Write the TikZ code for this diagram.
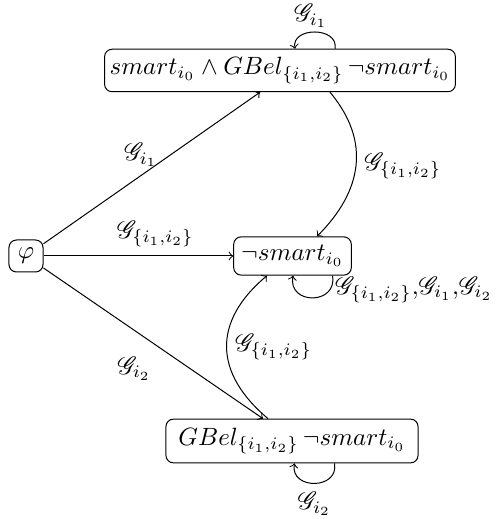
\documentclass[tikz,border=0pt]{standalone}
\usepackage{mathrsfs}
\begin{document}
\begin{tikzpicture}[x=0.4pt,y=0.4pt,
  state/.style={draw, rounded corners=3pt, inner sep=3pt},
  >=to]
\useasboundingbox (0,0) rectangle (499,519);
\node[state, minimum width=13.6pt, minimum height=12.8pt] (phi) at (26,263) {$\varphi$};
\node[state, minimum height=15.3pt] (s) at (292.5,263) {$\neg smart_{i_0}$};
\node[state, inner xsep=2pt, minimum height=17pt] (top) at (280,448.5) {$smart_{i_0} \wedge GBel_{\{i_1,i_2\}}\,\neg smart_{i_0}$};
\node[state, inner xsep=5pt, minimum height=17.5pt] (bot) at (292,78) {$GBel_{\{i_1,i_2\}}\,\neg smart_{i_0}$};
\draw[->] (phi) -- node[pos=0.45, above] {$\mathscr{G}_{i_1}$} ([xshift=-8pt]top.south);
\draw[->] (phi) -- node[pos=0.59, above] {$\mathscr{G}_{\{i_1,i_2\}}$} (s);
\draw[->] (phi) -- node[pos=0.53, below left] {$\mathscr{G}_{i_2}$} ([xshift=-11.6pt]bot.north);
\draw[->] ([xshift=20pt]top.south) to[out=-50,in=45,looseness=1.13] node[right] {$\mathscr{G}_{\{i_1,i_2\}}$} ([xshift=9.8pt]s.north);
\draw[->] ([xshift=-9.6pt]bot.north) to[out=140,in=-140,looseness=1.27] node[right] {$\mathscr{G}_{\{i_1,i_2\}}$} ([xshift=-10.2pt]s.south);
\draw[->] ([xshift=22pt]top.north) .. controls +(80:9pt) and +(100:9pt) .. node[pos=0.5, above, xshift=-1.6pt, inner sep=1.5pt] {$\mathscr{G}_{i_1}$} ([xshift=6pt]top.north);
\draw[->] ([xshift=16pt]s.south) .. controls +(-80:12pt) and +(-100:12pt) .. node[pos=0.2, right, inner sep=2pt] {$\mathscr{G}_{\{i_1,i_2\}}{,}\mathscr{G}_{i_1}{,}\mathscr{G}_{i_2}$} ([xshift=0.2pt]s.south);
\draw[->] ([xshift=17pt]bot.south) .. controls +(-80:10.8pt) and +(-100:10.8pt) .. node[below] {$\mathscr{G}_{i_2}$} ([xshift=1pt]bot.south);
\end{tikzpicture}
\end{document}
